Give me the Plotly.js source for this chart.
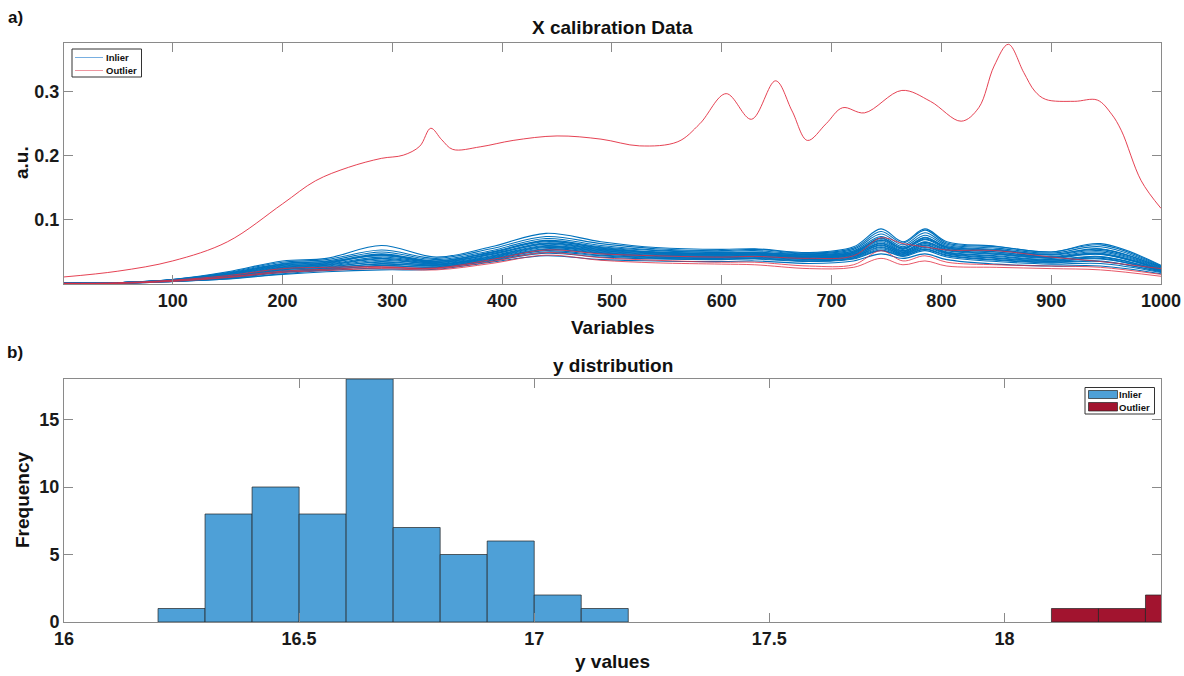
<!DOCTYPE html>
<html>
<head>
<meta charset="utf-8">
<script src="https://cdn.plot.ly/plotly-3.0.1.min.js"></script>
<style>html,body{margin:0;padding:0;background:#fff;}#chart{width:1184px;height:676px;}</style>
</head>
<body>
<div id="chart"></div>
<script>
// ---------- Top panel: spectra (knot positions along Variables axis) ----------
const variables = [1, 50, 100, 150, 200, 240, 290, 340, 390, 440, 490, 540, 600, 630, 680, 720, 745, 765, 785, 805, 850, 900, 945, 1000];

const inlier01 = [0.001,0.002,0.007,0.019,0.036,0.040,0.060,0.042,0.058,0.079,0.066,0.057,0.054,0.055,0.049,0.058,0.086,0.066,0.086,0.066,0.059,0.050,0.063,0.029];
const inlier02 = [0.001,0.002,0.007,0.018,0.034,0.038,0.053,0.040,0.055,0.074,0.063,0.055,0.052,0.054,0.048,0.056,0.082,0.064,0.084,0.064,0.058,0.050,0.061,0.028];
const inlier03 = [0.001,0.002,0.007,0.017,0.032,0.036,0.050,0.038,0.052,0.071,0.060,0.053,0.051,0.052,0.047,0.054,0.078,0.061,0.080,0.062,0.056,0.048,0.058,0.027];
const inlier04 = [0.001,0.002,0.006,0.016,0.030,0.034,0.047,0.036,0.050,0.068,0.058,0.052,0.049,0.050,0.046,0.052,0.074,0.058,0.076,0.060,0.054,0.046,0.055,0.026];
const inlier05 = [0.001,0.002,0.006,0.015,0.029,0.033,0.045,0.035,0.049,0.066,0.057,0.050,0.048,0.049,0.045,0.050,0.071,0.056,0.072,0.058,0.052,0.045,0.052,0.025];
const inlier06 = [0.001,0.002,0.006,0.014,0.027,0.031,0.042,0.034,0.047,0.064,0.055,0.049,0.047,0.048,0.044,0.049,0.068,0.054,0.069,0.056,0.050,0.043,0.050,0.024];
const inlier07 = [0.001,0.002,0.006,0.013,0.026,0.030,0.040,0.033,0.046,0.062,0.053,0.048,0.046,0.047,0.043,0.048,0.066,0.052,0.066,0.054,0.048,0.042,0.048,0.023];
const inlier08 = [0.001,0.002,0.005,0.012,0.024,0.028,0.037,0.032,0.044,0.060,0.052,0.047,0.045,0.046,0.042,0.046,0.063,0.050,0.063,0.052,0.046,0.040,0.046,0.022];
const inlier09 = [0.001,0.002,0.005,0.011,0.022,0.027,0.034,0.030,0.042,0.058,0.050,0.045,0.044,0.045,0.041,0.045,0.061,0.049,0.061,0.050,0.044,0.038,0.043,0.021];
const inlier10 = [0.001,0.002,0.005,0.010,0.020,0.025,0.031,0.029,0.040,0.055,0.048,0.043,0.042,0.043,0.039,0.043,0.058,0.047,0.058,0.048,0.041,0.036,0.040,0.020];
const inlier11 = [0.001,0.001,0.004,0.009,0.018,0.023,0.028,0.027,0.038,0.052,0.045,0.041,0.040,0.041,0.037,0.041,0.055,0.045,0.055,0.045,0.038,0.034,0.036,0.019];
const inlier12 = [0.001,0.001,0.004,0.008,0.016,0.021,0.025,0.025,0.036,0.048,0.042,0.039,0.038,0.039,0.035,0.039,0.052,0.043,0.052,0.042,0.035,0.031,0.032,0.018];
const inlier13 = [0.001,0.001,0.004,0.008,0.015,0.019,0.022,0.023,0.034,0.044,0.038,0.036,0.035,0.036,0.032,0.036,0.047,0.040,0.047,0.038,0.031,0.028,0.028,0.016];
const inlier14 = [0.001,0.002,0.006,0.016,0.031,0.035,0.044,0.036,0.049,0.067,0.056,0.049,0.046,0.047,0.043,0.049,0.072,0.055,0.073,0.057,0.050,0.042,0.047,0.023];
const inlier15 = [0.001,0.002,0.006,0.014,0.028,0.032,0.046,0.034,0.046,0.063,0.054,0.050,0.048,0.049,0.045,0.051,0.069,0.056,0.070,0.058,0.053,0.046,0.054,0.026];
const inlier16 = [0.001,0.002,0.005,0.012,0.025,0.029,0.039,0.031,0.043,0.059,0.051,0.046,0.045,0.046,0.042,0.047,0.064,0.051,0.065,0.053,0.047,0.041,0.047,0.022];
const inlier17 = [0.001,0.002,0.005,0.011,0.023,0.026,0.035,0.030,0.041,0.057,0.049,0.044,0.043,0.044,0.040,0.044,0.060,0.048,0.060,0.049,0.043,0.037,0.042,0.021];
const inlier18 = [0.001,0.001,0.005,0.010,0.021,0.024,0.032,0.028,0.039,0.054,0.047,0.042,0.041,0.042,0.038,0.042,0.057,0.046,0.057,0.047,0.040,0.035,0.039,0.020];
const inlier19 = [0.001,0.001,0.004,0.009,0.019,0.022,0.029,0.026,0.037,0.050,0.044,0.040,0.039,0.040,0.036,0.040,0.053,0.044,0.054,0.044,0.037,0.033,0.035,0.019];
const inliers = [inlier01,inlier02,inlier03,inlier04,inlier05,inlier06,inlier07,inlier08,inlier09,inlier10,
                 inlier11,inlier12,inlier13,inlier14,inlier15,inlier16,inlier17,inlier18,inlier19];

const outlierMid  = [0.001,0.002,0.006,0.013,0.024,0.026,0.027,0.025,0.038,0.053,0.047,0.044,0.042,0.043,0.040,0.044,0.072,0.063,0.058,0.053,0.052,0.042,0.035,0.024];
const outlierLow1 = [0.001,0.001,0.005,0.011,0.020,0.023,0.026,0.024,0.035,0.049,0.041,0.037,0.034,0.034,0.028,0.030,0.052,0.036,0.044,0.034,0.030,0.028,0.026,0.015];
const outlierLow2 = [0.001,0.001,0.004,0.010,0.018,0.021,0.024,0.022,0.032,0.045,0.037,0.033,0.031,0.030,0.024,0.026,0.040,0.030,0.036,0.028,0.026,0.024,0.022,0.012];
const lowOutliers = [outlierMid, outlierLow1, outlierLow2];

const bigOutlierX = [1, 50, 100, 150, 200, 230, 260, 290, 310, 325, 335, 345, 355, 380, 410, 450, 490, 525, 560, 580, 604, 627, 649, 664, 678, 695, 710, 730, 764, 790, 818, 834, 848, 861, 875, 885, 895, 921, 942, 955, 964, 982, 1000];
const bigOutlierY = [0.011, 0.020, 0.036, 0.066, 0.125, 0.161, 0.182, 0.196, 0.201, 0.215, 0.243, 0.225, 0.210, 0.214, 0.224, 0.231, 0.226, 0.2155, 0.222, 0.250, 0.297, 0.257, 0.317, 0.270, 0.224, 0.250, 0.275, 0.267, 0.302, 0.285, 0.254, 0.275, 0.340, 0.374, 0.330, 0.301, 0.288, 0.285, 0.287, 0.265, 0.239, 0.161, 0.118];

const xTicksTop = [100, 200, 300, 400, 500, 600, 700, 800, 900, 1000];
const yTicksTop = [0.1, 0.2, 0.3];

// ---------- Bottom panel: histogram of y ----------
const inlierBinCenters = [16.25, 16.35, 16.45, 16.55, 16.65, 16.75, 16.85, 16.95, 17.05, 17.15];
const inlierCounts     = [1, 8, 10, 8, 18, 7, 5, 6, 2, 1];
const outlierBinCenters = [18.15, 18.25, 18.35];
const outlierCounts     = [1, 1, 2];
const xTicksBottom = [16, 16.5, 17, 17.5, 18];
const yTicksBottom = [0, 5, 10, 15];

const legendLabels = ["Inlier", "Outlier"];

const FONT = "Liberation Sans, Arial, Helvetica, sans-serif";
const BLUE_LINE = "#0072BD";
const RED_LINE = "rgb(226,44,64)";
const BAR_BLUE = "rgb(78,160,215)";
const BAR_RED = "rgb(162,20,47)";
const traces = [];

inliers.forEach((v) => {
  traces.push({x: variables, y: v, type: "scatter", mode: "lines",
    line: {color: BLUE_LINE, width: 1.1, shape: "spline", smoothing: 1},
    name: "Inlier", showlegend: false, xaxis: "x", yaxis: "y", hoverinfo: "skip"});
});
traces.push({x: bigOutlierX, y: bigOutlierY, type: "scatter", mode: "lines",
  line: {color: RED_LINE, width: 0.9, shape: "spline", smoothing: 1},
  name: "Outlier", showlegend: false, xaxis: "x", yaxis: "y", hoverinfo: "skip"});
lowOutliers.forEach((v) => {
  traces.push({x: variables, y: v, type: "scatter", mode: "lines",
    line: {color: RED_LINE, width: 0.8, shape: "spline", smoothing: 1},
    name: "Outlier", showlegend: false, xaxis: "x", yaxis: "y", hoverinfo: "skip"});
});

traces.push({x: inlierBinCenters, y: inlierCounts, type: "bar", width: 0.1,
  marker: {color: BAR_BLUE, line: {color: "rgb(35,35,35)", width: 0.7}},
  name: "Inlier", showlegend: false, xaxis: "x2", yaxis: "y2"});
traces.push({x: outlierBinCenters, y: outlierCounts, type: "bar", width: 0.1,
  marker: {color: BAR_RED, line: {color: "rgb(35,35,35)", width: 0.7}},
  name: "Outlier", showlegend: false, xaxis: "x2", yaxis: "y2"});

const axisCommon = {
  showline: true, mirror: "ticks", linecolor: "#8a8a8a", linewidth: 1,
  ticks: "inside", ticklen: 9, tickcolor: "#8a8a8a", tickwidth: 1,
  showgrid: false, zeroline: false,
  tickfont: {family: FONT, size: 18, color: "#1a1a1a", weight: 700}
};

// pixel -> paper helpers (plot area: x 64..1161, y 43..622)
const PX = (px) => (px - 64) / 1097;
const PY = (py) => (622 - py) / 579;

const ann = (text, x, y, size, extra) => Object.assign({
  text: text, xref: "paper", yref: "paper", x: x, y: y, showarrow: false,
  xanchor: "center", yanchor: "middle",
  font: {family: FONT, size: size, color: "#111", weight: 700}
}, extra || {});

const shapes = [
  // top legend box and line samples
  {type: "rect", xref: "paper", yref: "paper", x0: PX(72), x1: PX(141.5), y0: PY(49), y1: PY(77),
   fillcolor: "#fff", line: {color: "#333", width: 1}},
  {type: "line", xref: "paper", yref: "paper", x0: PX(75), x1: PX(103), y0: PY(57.5), y1: PY(57.5),
   line: {color: "rgb(120,175,225)", width: 1}},
  {type: "line", xref: "paper", yref: "paper", x0: PX(75), x1: PX(103), y0: PY(70.5), y1: PY(70.5),
   line: {color: "rgb(238,150,160)", width: 1}},
  // bottom legend box and swatches
  {type: "rect", xref: "paper", yref: "paper", x0: PX(1085), x1: PX(1154.5), y0: PY(387.5), y1: PY(414),
   fillcolor: "#fff", line: {color: "#333", width: 1}},
  {type: "rect", xref: "paper", yref: "paper", x0: PX(1088.5), x1: PX(1117.5), y0: PY(390.5), y1: PY(398.5),
   fillcolor: BAR_BLUE, line: {color: "#222", width: 0.7}},
  {type: "rect", xref: "paper", yref: "paper", x0: PX(1088.5), x1: PX(1117.5), y0: PY(402.5), y1: PY(411),
   fillcolor: BAR_RED, line: {color: "#222", width: 0.7}}
];

const legText = (text, px, py) => ann(text, PX(px), PY(py), 9.5, {xanchor: "left"});

const layout = {
  width: 1184, height: 676,
  margin: {l: 64, r: 23, t: 43, b: 54},
  paper_bgcolor: "#fff", plot_bgcolor: "#fff",
  barmode: "overlay", bargap: 0, showlegend: false,
  xaxis: Object.assign({}, axisCommon, {domain: [0, 1], anchor: "y", range: [1, 1000], tickvals: xTicksTop}),
  yaxis: Object.assign({}, axisCommon, {domain: [PY(284), 1], anchor: "x", range: [0, 0.376], tickvals: yTicksTop}),
  xaxis2: Object.assign({}, axisCommon, {domain: [0, 1], anchor: "y2", range: [16, 18.333], tickvals: xTicksBottom}),
  yaxis2: Object.assign({}, axisCommon, {domain: [0, PY(379)], anchor: "x2", range: [0, 18], tickvals: yTicksBottom}),
  shapes: shapes,
  annotations: [
    ann("a)", PX(15), PY(18), 17),
    ann("X calibration Data", 0.5, PY(28), 19),
    ann("Variables", 0.5, PY(327), 19),
    ann("a.u.", PX(22), PY(163), 19, {textangle: -90}),
    ann("b)", PX(15), PY(352), 17),
    ann("y distribution", 0.5, PY(365), 19),
    ann("Frequency", PX(22), PY(500), 19, {textangle: -90}),
    ann("y values", 0.5, PY(661), 19),
    legText(legendLabels[0], 104, 57),
    legText(legendLabels[1], 104, 70),
    legText(legendLabels[0], 1117, 394.5),
    legText(legendLabels[1], 1117, 407)
  ]
};

Plotly.newPlot("chart", traces, layout, {staticPlot: true, displayModeBar: false});
</script>
</body>
</html>
